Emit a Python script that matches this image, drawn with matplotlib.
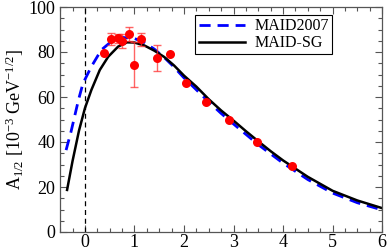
import matplotlib
matplotlib.use("Agg")
import matplotlib.pyplot as plt
from matplotlib.ticker import MultipleLocator

plt.rcParams['font.family'] = ['Liberation Serif', 'DejaVu Serif']
plt.rcParams['mathtext.fontset'] = 'custom'
plt.rcParams['mathtext.rm'] = 'Liberation Serif'
plt.rcParams['mathtext.it'] = 'Liberation Serif'

# Data points
data_q2 = [0.39, 0.52, 0.66, 0.75, 0.89, 0.99, 1.14, 1.45, 1.72, 2.04, 2.44, 2.91, 3.48, 4.17]
data_a = [79.4, 85.8, 86.2, 85.0, 87.9, 74.4, 85.6, 77.2, 79.1, 66.4, 57.9, 49.8, 40.1, 29.3]
data_err = [0.0, 2.5, 2.0, 3.0, 3.2, 10.0, 3.0, 5.8, 0.0, 0.0, 0.0, 0.0, 0.0, 0.0]

# MAID-SG curve (black)
sg_q2 = [-0.36, -0.25, -0.12, 0.0, 0.13, 0.3, 0.47, 0.67, 0.85, 1.0, 1.2, 1.4, 1.6, 1.8,
         2.0, 2.25, 2.5, 2.75, 3.0, 3.25, 3.5, 3.75, 4.0, 4.5, 5.0, 5.5, 6.0]
sg_a = [18.7, 31.5, 45.0, 55.0, 63.1, 72.0, 77.9, 82.4, 84.3, 84.2, 82.9, 80.6, 77.8, 74.0,
        69.5, 64.6, 59.0, 54.0, 49.5, 44.8, 40.3, 35.9, 31.8, 24.5, 18.3, 14.0, 10.6]

# MAID2007 curve (blue dashed)
m07_q2 = [-0.38, -0.28, -0.13, -0.04, 0.13, 0.33, 0.53, 0.75, 1.0, 1.2, 1.4, 1.6, 1.8,
          2.0, 2.25, 2.5, 2.75, 3.0, 3.5, 4.0, 4.5, 5.0, 5.5, 6.0]
m07_a = [36.4, 44.6, 58.7, 66.0, 73.5, 80.9, 84.6, 86.5, 86.0, 84.2, 81.3, 77.6, 73.3,
         68.5, 63.2, 57.8, 52.7, 48.0, 38.8, 30.6, 23.3, 17.3, 13.0, 9.8]

fig = plt.figure(figsize=(3.88, 2.5), dpi=100)
ax = fig.add_axes([0.155, 0.072, 0.83, 0.9])

ax.axvline(0, color='black', lw=0.9, ls=(0, (4, 3)))
ax.plot(m07_q2, m07_a, color='#0000ff', lw=2.0, ls=(0, (4, 2.5)), label='MAID2007')
ax.plot(sg_q2, sg_a, color='black', lw=1.8, label='MAID-SG')

ax.errorbar(data_q2, data_a, yerr=data_err, fmt='none', ecolor='#ff3030', alpha=0.75,
            elinewidth=1.0, capsize=3, capthick=1.0)
ax.plot(data_q2, data_a, 'o', color='#ff0000', ms=6.5, mew=0, zorder=5)

ax.set_xlim(-0.5, 6)
ax.set_ylim(0, 100)
ax.xaxis.set_major_locator(MultipleLocator(1))
ax.xaxis.set_minor_locator(MultipleLocator(0.25))
ax.yaxis.set_major_locator(MultipleLocator(20))
ax.yaxis.set_minor_locator(MultipleLocator(5))
ax.tick_params(which='both', direction='in', top=True, right=True, labelsize=13,
               color='#555555')
ax.tick_params(axis='x', pad=1.5)
ax.tick_params(which='major', length=5, width=0.8)
ax.tick_params(which='minor', length=3, width=0.8)
for s in ax.spines.values():
    s.set_color('#555555')
    s.set_linewidth(0.9)

ax.set_ylabel(r'A$_{1/2}$ [10$^{-3}$ GeV$^{-1/2}$]', fontsize=13, labelpad=2)

leg = ax.legend(loc='upper right', bbox_to_anchor=(0.845, 0.964), fontsize=11.5,
                frameon=True, fancybox=False, edgecolor='black', framealpha=1,
                handlelength=2.9, borderpad=0.2, labelspacing=0.05, handletextpad=0.6,
                borderaxespad=0.0)
leg.get_frame().set_linewidth(0.8)

fig.savefig('out.png', dpi=100)
